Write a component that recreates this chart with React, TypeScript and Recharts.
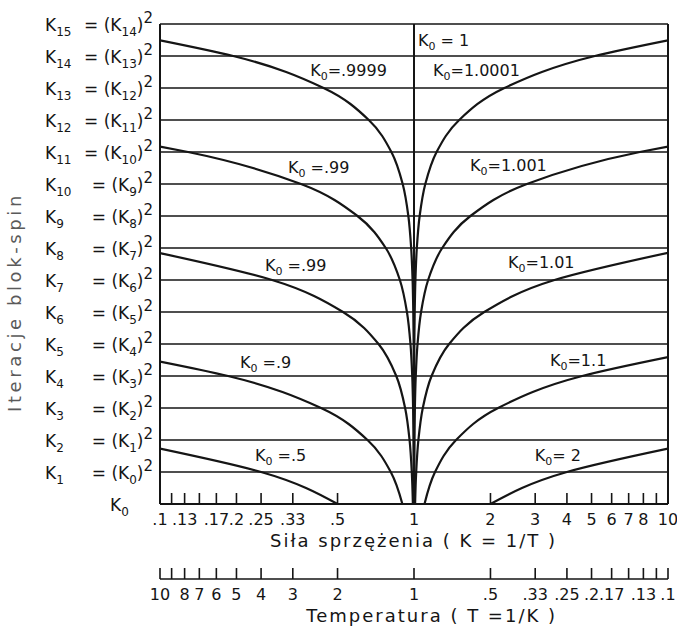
import React from 'react';
import {
  LineChart,
  Line,
  XAxis,
  YAxis,
  CartesianGrid,
  ReferenceLine,
  ReferenceDot,
  Label,
} from 'recharts';

const FONT = '"DejaVu Sans", sans-serif';
const INK = '#151515';

// block-spin iteration levels K0 .. K15
const levels = [0, 1, 2, 3, 4, 5, 6, 7, 8, 9, 10, 11, 12, 13, 14, 15];

// coupling axis, K = 1/T
const kTicks = [0.1, 0.1111, 0.125, 0.1429, 0.1667, 0.2, 0.25, 0.3333, 0.5, 1, 2, 3, 4, 5, 6, 7, 8, 9, 10];
const kTickLabels = ['.1', '', '.13', '', '.17', '.2', '.25', '.33', '.5', '1', '2', '3', '4', '5', '6', '7', '8', '', '10'];

// temperature axis, T = 1/K (runs the other way)
const tTicks = [10, 9, 8, 7, 6, 5, 4, 3, 2, 1, 0.5, 0.3333, 0.25, 0.2, 0.1667, 0.1429, 0.125, 0.1111, 0.1];
const tTickLabels = ['10', '', '8', '7', '6', '5', '4', '3', '2', '1', '.5', '.33', '.25', '.2', '.17', '', '.13', '', '.1'];

// [K, iteration] along each flow; the last pair is where it leaves the frame
const flow0_5 = [[0.5, 0], [0.25, 1], [0.1, 1.73]];
const flow0_9 = [[0.9, 0], [0.81, 1], [0.6561, 2], [0.4305, 3], [0.1853, 4], [0.1, 4.45]];
const flow0_99 = [
  [0.99, 0], [0.9801, 1], [0.9606, 2], [0.9227, 3], [0.8515, 4],
  [0.725, 5], [0.5256, 6], [0.2763, 7], [0.1, 7.84],
];
const flow0_999 = [
  [0.999, 0], [0.998, 1], [0.996, 2], [0.992, 3], [0.9841, 4], [0.9685, 5],
  [0.938, 6], [0.8798, 7], [0.774, 8], [0.5991, 9], [0.359, 10], [0.1289, 11], [0.1, 11.17],
];
const flow0_9999 = [
  [0.9999, 0], [0.9998, 1], [0.9996, 2], [0.9992, 3], [0.9984, 4], [0.9968, 5],
  [0.9936, 6], [0.9873, 7], [0.9747, 8], [0.9501, 9], [0.9026, 10], [0.8147, 11],
  [0.6638, 12], [0.4406, 13], [0.1942, 14], [0.1, 14.49],
];
const flow1_0001 = [
  [1.0001, 0], [1.0002, 1], [1.0004, 2], [1.0008, 3], [1.0016, 4], [1.0032, 5],
  [1.0064, 6], [1.0129, 7], [1.0259, 8], [1.0525, 9], [1.1079, 10], [1.2274, 11],
  [1.5066, 12], [2.2697, 13], [5.1517, 14], [10, 14.49],
];
const flow1_001 = [
  [1.001, 0], [1.002, 1], [1.004, 2], [1.008, 3], [1.0161, 4], [1.0325, 5],
  [1.0661, 6], [1.1365, 7], [1.2916, 8], [1.6682, 9], [2.7829, 10], [7.7444, 11], [10, 11.17],
];
const flow1_01 = [
  [1.01, 0], [1.0201, 1], [1.0406, 2], [1.0829, 3], [1.1726, 4],
  [1.3749, 5], [1.8905, 6], [3.5739, 7], [10, 7.85],
];
const flow1_1 = [[1.1, 0], [1.21, 1], [1.4641, 2], [2.1436, 3], [4.595, 4], [10, 4.59]];
const flow2 = [[2, 0], [4, 1], [10, 1.73]];

// K0 = 1 is the fixed point T = 1: [T, iteration]
const fixedPoint = [[1, 0], [1, 15]];

const flows = [
  flow0_5, flow0_9, flow0_99, flow0_999, flow0_9999,
  flow1_0001, flow1_001, flow1_01, flow1_1, flow2,
];

// K0 tags written next to the flows
const flowLabels = [
  { k: 0.39, n: 13.56, text: '=.9999' },
  { k: 1.037, n: 14.5, text: ' = 1' },
  { k: 1.188, n: 13.56, text: '=1.0001' },
  { k: 0.319, n: 10.53, text: ' =.99' },
  { k: 1.662, n: 10.6, text: '=1.001' },
  { k: 0.259, n: 7.47, text: ' =.99' },
  { k: 2.344, n: 7.56, text: '=1.01' },
  { k: 0.2065, n: 4.44, text: ' =.9' },
  { k: 3.43, n: 4.5, text: '=1.1' },
  { k: 0.2366, n: 1.53, text: ' =.5' },
  { k: 2.99, n: 1.53, text: '= 2' },
];

const toPoints = (pairs: number[][]) => pairs.map(([k, n]) => ({ k, n }));

const findTick = (ticks: number[], v: number) =>
  ticks.findIndex((t) => Math.abs(t - v) < 1e-6);

function AxisTick({ x, y, payload, ticks, labels }: any) {
  const label = labels[findTick(ticks, payload.value)] || '';
  return (
    <g>
      <line x1={x} x2={x} y1={y} y2={y - 11} stroke={INK} strokeWidth={1.6} />
      <text x={x} y={y + 21} textAnchor="middle" fontFamily={FONT} fontSize={16} fill={INK}>
        {label}
      </text>
    </g>
  );
}

function LevelTick({ x, y, payload }: any) {
  const n = payload.value;
  if (n === 0) {
    return (
      <text x={x - 50} y={y + 7} fontFamily={FONT} fontSize={17} fill={INK}>
        K<tspan dy={5} fontSize={12}>0</tspan>
      </text>
    );
  }
  return (
    <g fontFamily={FONT} fill={INK}>
      <text x={x - 115} y={y + 7} fontSize={17}>
        K<tspan dy={5} fontSize={12}>{n}</tspan>
      </text>
      <text x={x - 7} y={y + 7} fontSize={17} textAnchor="end">
        = (K<tspan dy={5} fontSize={12}>{n - 1}</tspan>
        <tspan dy={-5}>)</tspan>
        <tspan dy={-8} fontSize={15}>2</tspan>
      </text>
    </g>
  );
}

function FlowTag({ cx, cy, text }: any) {
  return (
    <text x={cx} y={cy + 6} fontFamily={FONT} fontSize={16} fill={INK}>
      K<tspan dy={4} fontSize={11}>0</tspan>
      <tspan dy={-4}>{text}</tspan>
    </text>
  );
}

const titleStyle = { fontFamily: FONT, fontSize: 18, letterSpacing: 2, fill: INK };

export default function App() {
  return (
    <div style={{ position: 'absolute', left: 0, top: 0, width: 677, height: 627, background: '#fff' }}>
      <LineChart width={677} height={627} margin={{ top: 24, right: 9, bottom: 0, left: 0 }}>
        <CartesianGrid horizontal vertical={false} stroke={INK} strokeWidth={1.5} />
        <XAxis
          dataKey="k"
          type="number"
          scale="log"
          domain={[0.1, 10]}
          allowDataOverflow
          ticks={kTicks}
          interval={0}
          height={75}
          tickSize={0}
          tickMargin={0}
          tickLine={false}
          axisLine={{ stroke: INK, strokeWidth: 2 }}
          tick={(p: any) => <AxisTick {...p} ticks={kTicks} labels={kTickLabels} />}
        >
          <Label
            content={({ viewBox }: any) => (
              <text x={viewBox.x + 397} y={viewBox.y + 43} textAnchor="end" style={titleStyle}>
                Siła sprzężenia ( K = 1/T )
              </text>
            )}
          />
        </XAxis>
        <XAxis
          xAxisId="t"
          dataKey="t"
          type="number"
          scale="log"
          domain={[0.1, 10]}
          allowDataOverflow
          reversed
          ticks={tTicks}
          interval={0}
          height={48}
          tickSize={0}
          tickMargin={0}
          tickLine={false}
          axisLine={{ stroke: INK, strokeWidth: 1.6 }}
          tick={(p: any) => <AxisTick {...p} ticks={tTicks} labels={tTickLabels} />}
        >
          <Label
            content={({ viewBox }: any) => (
              <text x={viewBox.x + 397} y={viewBox.y + 43} textAnchor="end" style={titleStyle}>
                Temperatura ( T =1/K )
              </text>
            )}
          />
        </XAxis>
        <YAxis
          type="number"
          domain={[0, 15]}
          ticks={levels}
          interval={0}
          width={160}
          tickSize={0}
          tickMargin={0}
          tickLine={false}
          axisLine={{ stroke: INK, strokeWidth: 2 }}
          tick={(p: any) => <LevelTick {...p} />}
        >
          <Label
            content={({ viewBox }: any) => (
              <text
                transform={`translate(${viewBox.x + 21}, ${viewBox.y + 278}) rotate(-90)`}
                textAnchor="middle"
                style={{ ...titleStyle, letterSpacing: 3.6, fill: '#5a5a5a' }}
              >
                Iteracje blok-spin
              </text>
            )}
          />
        </YAxis>
        <ReferenceLine x={10} stroke={INK} strokeWidth={2} />
        <Line
          xAxisId="t"
          data={fixedPoint.map(([t, n]) => ({ t, n }))}
          dataKey="n"
          type="linear"
          stroke={INK}
          strokeWidth={2}
          dot={false}
          isAnimationActive={false}
        />
        {flows.map((f, i) => (
          <Line
            key={i}
            data={toPoints(f)}
            dataKey="n"
            type="monotoneY"
            stroke={INK}
            strokeWidth={2.2}
            dot={false}
            isAnimationActive={false}
          />
        ))}
        {flowLabels.map((l, i) => (
          <ReferenceDot
            key={i}
            x={l.k}
            y={l.n}
            r={0}
            ifOverflow="visible"
            shape={(p: any) => <FlowTag cx={p.cx} cy={p.cy} text={l.text} />}
          />
        ))}
      </LineChart>
    </div>
  );
}
